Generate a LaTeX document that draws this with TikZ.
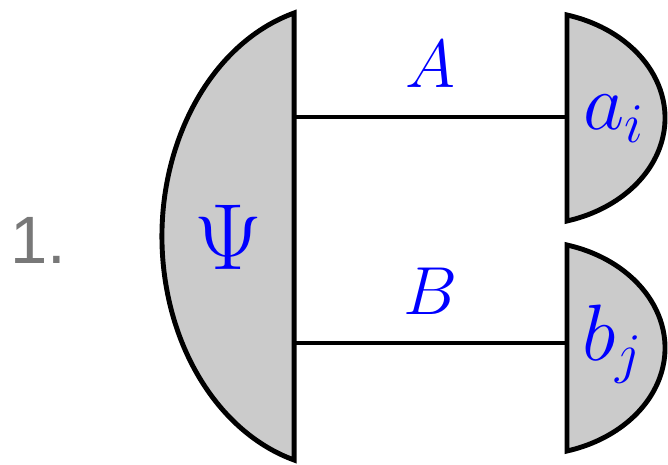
\RequirePackage{fix-cm}
\documentclass[tikz,border=0pt]{standalone}
\usepackage{fontspec}
\newfontfamily\numfont{Liberation Sans}
\definecolor{shade}{RGB}{203,203,203}
\definecolor{numgray}{RGB}{120,120,120}
\definecolor{labelblue}{RGB}{0,0,255}
\begin{document}
\begin{tikzpicture}[x=1pt,y=1pt,
  outline/.style={draw=black, line width=4.9pt, fill=shade, line join=miter},
  wire/.style={draw=black, line width=4.9pt},
  lbl/.style={text=labelblue, inner sep=0pt}]
\useasboundingbox (0,0) rectangle (668,464);
\coordinate (psiA) at (294.5,347);
\coordinate (psiB) at (294.5,121);
\coordinate (aL) at (567,347);
\coordinate (bL) at (567,121);
\draw[wire] (psiA) -- (aL);
\draw[wire] (psiB) -- (bL);
\path[outline] (294.1,451) arc[start angle=105.9, end angle=254.1, x radius=182, y radius=232.4] -- cycle;
\path[outline] (567,449) arc[start angle=74.1, end angle=-74.1, x radius=135, y radius=107.1] -- cycle;
\path[outline] (567,219) arc[start angle=74.1, end angle=-74.1, x radius=135, y radius=107.1] -- cycle;
\node[lbl, anchor=base, font=\fontsize{94}{94}\selectfont] (psi) at (228,195) {$\Psi$};
\node[lbl, anchor=base, font=\fontsize{68}{68}\selectfont] (labA) at (430,376) {$A$};
\node[lbl, anchor=base, font=\fontsize{68}{68}\selectfont] (labB) at (430,150) {$B$};
\node[lbl, anchor=base west, font=\fontsize{80}{80}\selectfont] (ai) at (583,334) {$a_i$};
\node[lbl, anchor=base west, font=\fontsize{80}{80}\selectfont] (bj) at (582,104) {$b_j$};
\node[anchor=base west, inner sep=0pt, text=numgray, font=\numfont\fontsize{67}{67}\selectfont] (num) at (10,201) {1.};
\end{tikzpicture}
\end{document}
